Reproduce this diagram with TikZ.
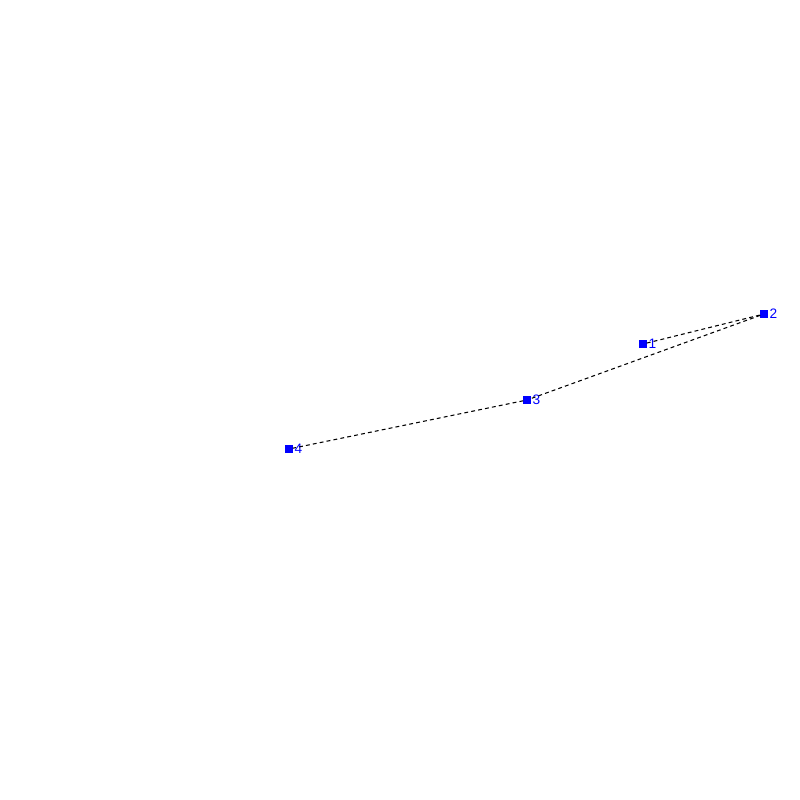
\documentclass[tikz,border=0pt]{standalone}
\usepackage{fontspec}
\setmainfont{Liberation Sans}
\begin{document}
\begin{tikzpicture}[x=0.01cm,y=-0.01cm,
  pt/.style={fill=blue,draw=none,minimum size=0.075cm,inner sep=0pt,outer sep=0pt,rectangle},
  lbl/.style={text=blue,font=\fontsize{3.9}{4.5}\selectfont,inner sep=0pt,anchor=west},
  link/.style={draw=black,line width=0.3pt,dash pattern=on 1.1pt off 0.9pt}]
\useasboundingbox (0,0) rectangle (800,800);
\node[pt] (n1) at (643,344) {};
\node[pt] (n2) at (764,314) {};
\node[pt] (n3) at (527,400) {};
\node[pt] (n4) at (289,449) {};
\node[lbl] (l1) at (648,344) {1};
\node[lbl] (l2) at (769,314) {2};
\node[lbl] (l3) at (532,400) {3};
\node[lbl] (l4) at (294,449) {4};
\draw[link] (n1) -- (n2);
\draw[link] (n2) -- (n3);
\draw[link] (n3) -- (n4);
\end{tikzpicture}
\end{document}
